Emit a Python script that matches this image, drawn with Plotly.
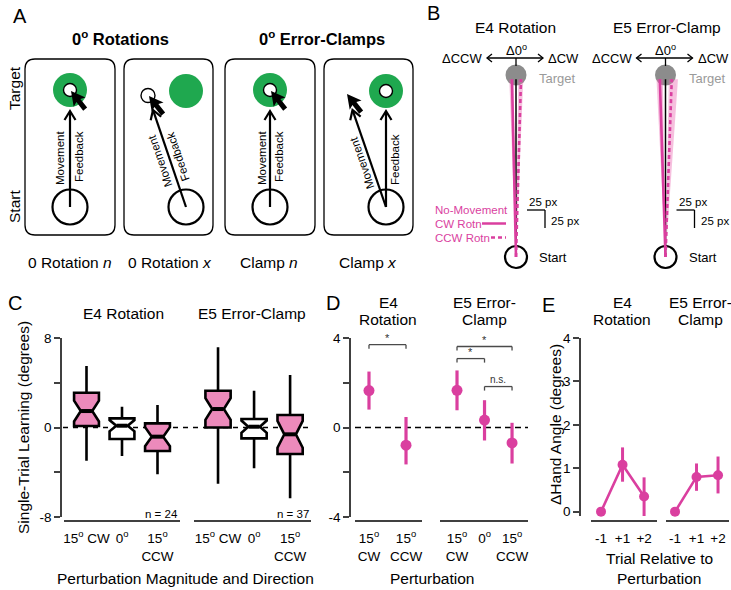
import math
import plotly.graph_objects as go

W, H = 731, 590
FONT = "Liberation Sans, Arial, Helvetica, sans-serif"
PINK = "#DA3F9F"
SHADE = "rgba(232,95,172,0.40)"
BOXPINK = "#EC8ABB"
GREEN = "#1FA84F"
AXC = "#404040"
GRAY = "#8c8c8c"

# ---------------- DATA ----------------
# Panel B: mean hand-trajectory endpoints (task px, + = CW) with CI bounds
b_conditions = ["CW Rotn", "CCW Rotn"]
b_reach = 247.0
b_e4_end = [-5.6, 6.9]
b_e4_ci_lo = [-9.3, 3.2]
b_e4_ci_hi = [-3.8, 10.1]
b_e5_end = [-7.9, 8.7]
b_e5_ci_lo = [-12.5, 4.6]
b_e5_ci_hi = [-3.7, 17.3]

# Panel C: single-trial learning box statistics (degrees)
c_cats = ["15° CW", "0°", "15° CCW"]
c_ticktext = ["15<sup>o</sup> CW", "0<sup>o</sup>", "15<sup>o</sup><br>CCW"]
c_e4_lowf = [-2.97, -2.55, -4.18]
c_e4_q1 = [0.13, -1.03, -2.10]
c_e4_med = [1.47, 0.16, -0.82]
c_e4_q3 = [3.10, 0.82, 0.37]
c_e4_upf = [5.50, 1.86, 2.01]
c_e4_notch = [0.93, 0.50, 0.85]
c_e5_lowf = [-5.02, -3.65, -6.33]
c_e5_q1 = [0.00, -0.97, -2.37]
c_e5_med = [1.65, 0.07, -0.61]
c_e5_q3 = [3.29, 0.76, 1.12]
c_e5_upf = [7.17, 3.29, 4.69]
c_e5_notch = [0.97, 0.55, 1.20]
c_n = ["n = 24", "n = 37"]

# Panel D: mean single-trial learning with CI
d_e4_cats = ["15° CW", "15° CCW"]
d_e4_tick = ["15<sup>o</sup><br>CW", "15<sup>o</sup><br>CCW"]
d_e4_mean = [1.65, -0.79]
d_e4_hi = [2.50, 0.47]
d_e4_lo = [0.80, -1.65]
d_e5_cats = ["15° CW", "0°", "15° CCW"]
d_e5_tick = ["15<sup>o</sup><br>CW", "0<sup>o</sup>", "15<sup>o</sup><br>CCW"]
d_e5_mean = [1.66, 0.33, -0.69]
d_e5_hi = [2.55, 1.22, 0.21]
d_e5_lo = [0.77, -0.58, -1.61]
d_sig_e4 = [("15° CW", "15° CCW", 3.70, "*")]
d_sig_e5 = [("15° CW", "15° CCW", 3.62, "*"),
            ("15° CW", "0°", 3.08, "*"),
            ("0°", "15° CCW", 1.83, "n.s.")]

# Panel E: change in hand angle relative to perturbation trial
e_cats = ["-1", "+1", "+2"]
e_e4_mean = [0.0, 1.08, 0.35]
e_e4_hi = [0.0, 1.48, 0.79]
e_e4_lo = [0.0, 0.69, -0.10]
e_e5_mean = [0.0, 0.80, 0.84]
e_e5_hi = [0.0, 1.11, 1.27]
e_e5_lo = [0.0, 0.48, 0.42]

# ---------------- helpers ----------------
fig = go.Figure()
shapes = []
ann = []


def fx(p):
    return p / W


def fy(p):
    return 1 - p / H


def text(x, y, s, size=15.5, color="black", xa="center", ya="middle", angle=0, ref=("x7", "y7")):
    ann.append(dict(x=x, y=y, xref=ref[0], yref=ref[1], text=s, showarrow=False,
                    font=dict(size=size, color=color, family=FONT), xanchor=xa, yanchor=ya,
                    textangle=angle))


def line(x0, y0, x1, y1, color="black", width=2, dash="solid", ref=("x7", "y7"), layer="above"):
    shapes.append(dict(type="line", x0=x0, y0=y0, x1=x1, y1=y1, xref=ref[0], yref=ref[1],
                       line=dict(color=color, width=width, dash=dash), layer=layer))


def circle(cx, cy, r, fill=None, lc="black", lw=2, layer="above"):
    shapes.append(dict(type="circle", x0=cx - r, x1=cx + r, y0=cy - r, y1=cy + r,
                       xref="x7", yref="y7",
                       fillcolor=fill if fill else "rgba(0,0,0,0)",
                       line=dict(color=lc, width=lw), layer=layer))


def path(d, fill=None, lc="black", lw=2, layer="above"):
    shapes.append(dict(type="path", path=d, xref="x7", yref="y7",
                       fillcolor=fill if fill else "rgba(0,0,0,0)",
                       line=dict(color=lc, width=lw), layer=layer))


def chevron(tx, ty, ux, uy, L=9, Wd=5.5, width=2.2):
    px_, py_ = -uy, ux
    a = (tx - L * ux + Wd * px_, ty - L * uy + Wd * py_)
    b = (tx - L * ux - Wd * px_, ty - L * uy - Wd * py_)
    path(f"M{a[0]:.2f},{a[1]:.2f} L{tx:.2f},{ty:.2f} L{b[0]:.2f},{b[1]:.2f}", lw=width)


def arrow(x0, y0, x1, y1, width=2.2, L=9, Wd=5.5):
    d = math.hypot(x1 - x0, y1 - y0)
    ux, uy = (x1 - x0) / d, (y1 - y0) / d
    line(x0, y0, x1 - ux * 1, y1 - uy * 1, width=width)
    chevron(x1, y1, ux, uy, L=L, Wd=Wd, width=width)


def cursor(tx, ty, ang=38):
    ux, uy = math.sin(math.radians(ang)), math.cos(math.radians(ang))
    px_, py_ = uy, -ux
    loc = [(0, 0), (7.5, 14), (2.5, 12), (2.5, 23), (-2.5, 23), (-2.5, 12), (-7.5, 14)]
    pts = [(tx + a * px_ + b * ux, ty + a * py_ + b * uy) for a, b in loc]
    d = "M" + " L".join(f"{x:.2f},{y:.2f}" for x, y in pts) + " Z"
    path(d, fill="black", lw=0)


def rrect(x0, y0, x1, y1, r=10, lw=1.3):
    d = (f"M{x0+r},{y0} L{x1-r},{y0} Q{x1},{y0} {x1},{y0+r} L{x1},{y1-r} Q{x1},{y1} {x1-r},{y1} "
         f"L{x0+r},{y1} Q{x0},{y1} {x0},{y1-r} L{x0},{y0+r} Q{x0},{y0} {x0+r},{y0} Z")
    path(d, lw=lw)


# ---------------- Panel A (schematic) ----------------
text(20, 16, "A", size=20)
text(120, 38, "<b>0<sup>o</sup> Rotations</b>", size=16.5)
text(322, 38, "<b>0<sup>o</sup> Error-Clamps</b>", size=16.5)
text(14, 88, "Target", angle=-90)
text(14, 207, "Start", angle=-90)

for (bx0, bx1) in [(25, 115), (124, 213), (225, 315), (324, 413)]:
    rrect(bx0, 59, bx1, 235)

# box 1 and 3 : on-target
for cx in (70, 270):
    circle(cx, 90, 17, fill=GREEN, lw=0)
    circle(cx, 90, 6.5, fill="white", lw=1.4)
    circle(cx, 207, 17.5, lw=2.2)
    arrow(cx, 207, cx, 111)
    cursor(cx + 1, 91)
text(60, 158, "Movement", size=11.5, angle=-90)
text(79, 157, "Feedback", size=11.5, angle=-90)
text(262, 158, "Movement", size=11.5, angle=-90)
text(279, 157, "Feedback", size=11.5, angle=-90)

# box 2 : rotation, x
circle(148, 95.5, 7, fill="white", lw=1.4)
circle(186, 91, 17, fill=GREEN, lw=0)
circle(186, 207, 17.5, lw=2.2)
arrow(186, 207, 153, 110)
cursor(149, 96)
ang2 = math.degrees(math.atan2(110 - 207, 153 - 186))
text(160, 161, "Movement", size=11.5, angle=ang2)
text(178, 157, "Feedback", size=11.5, angle=ang2)

# box 4 : clamp, x
circle(386, 91, 17, fill=GREEN, lw=0)
circle(386, 91, 6.5, fill="white", lw=1.4)
circle(386, 207, 17.5, lw=2.2)
arrow(386, 207, 386, 111)
arrow(386, 207, 352.5, 110)
cursor(347, 94)
ang4 = math.degrees(math.atan2(110 - 207, 352.5 - 386))
text(362, 163, "Movement", size=11.5, angle=ang4)
text(395, 160, "Feedback", size=11.5, angle=-90)

text(70, 262, "0 Rotation <i>n</i>")
text(170, 262, "0 Rotation <i>x</i>")
text(269, 262, "Clamp <i>n</i>")
text(368, 262, "Clamp <i>x</i>")

# ---------------- Panel B ----------------
text(433, 13, "B", size=20)
text(515, 27, "E4 Rotation")
text(667, 27, "E5 Error-Clamp")
for cx in (516, 665.5):
    text(cx, 50, "Δ0<sup>o</sup>", size=13)
    line(cx - 29, 58, cx + 27, 58, width=1.3)
    chevron(cx - 29, 58, -1, 0, L=5, Wd=4, width=1.3)
    chevron(cx + 27, 58, 1, 0, L=5, Wd=4, width=1.3)
    line(cx, 58, cx, 66, width=1.3)
    text(cx - 32, 58, "ΔCCW", size=13, xa="right")
    text(cx + 30, 58, "ΔCW", size=13, xa="left")
    circle(cx, 75, 10.5, fill=GRAY, lw=0, layer="below")
    text(cx + 21, 78, "Target", size=13, color="#9a9a9a", xa="left")
    circle(cx, 257, 11, lw=2.2, layer="below")
    text(cx + 21, 257, "Start", size=13, xa="left")
    # 25 px scale bar
    line(cx + 11, 210, cx + 29, 210, width=1.3)
    line(cx + 29, 210, cx + 29, 228, width=1.3)
    text(cx + 11, 202, "25 px", size=11.5, xa="left")
    text(cx + 33, 221, "25 px", size=11.5, xa="left")

text(433, 210, "No-Movement", size=11.5, color=PINK, xa="left")
text(433, 223.5, "CW Rotn", size=11.5, color=PINK, xa="left")
text(433, 237.5, "CCW Rotn", size=11.5, color=PINK, xa="left")
line(482, 223.5, 506, 223.5, color=PINK, width=2.5)
line(491, 237.5, 506, 237.5, color=PINK, width=2.5, dash="4px,3px")

for xa_, ya_, ends, los, his in [("x8", "y8", b_e4_end, b_e4_ci_lo, b_e4_ci_hi),
                                 ("x9", "y9", b_e5_end, b_e5_ci_lo, b_e5_ci_hi)]:
    for i, cond in enumerate(b_conditions):
        fig.add_trace(go.Scatter(x=[0, los[i], his[i], 0], y=[0, b_reach, b_reach, 0],
                                 fill="toself", fillcolor=SHADE, mode="lines", line=dict(width=0),
                                 xaxis=xa_, yaxis=ya_, hoverinfo="skip", showlegend=False))
    fig.add_trace(go.Scatter(x=[0, 0], y=[0, b_reach], mode="lines",
                             line=dict(color="black", width=1.5),
                             xaxis=xa_, yaxis=ya_, hoverinfo="skip", showlegend=False))
    for i, cond in enumerate(b_conditions):
        fig.add_trace(go.Scatter(x=[0, ends[i]], y=[0, b_reach], mode="lines", name=cond,
                                 line=dict(color=PINK, width=2.6,
                                           dash="solid" if i == 0 else "4px,3px"),
                                 xaxis=xa_, yaxis=ya_, hoverinfo="skip", showlegend=False))

# ---------------- Panel C ----------------
text(15, 303, "C", size=20)
text(123, 313, "E4 Rotation")
text(252, 313, "E5 Error-Clamp")
text(23, 428, "Single-Trial Learning (degrees)", angle=-90)
text(185, 578, "Perturbation Magnitude and Direction")
text(180, 514, c_n[0], size=11.5, xa="right")
text(311, 514, c_n[1], size=11.5, xa="right")

BOX_W = 0.7
NOTCH_W = 0.27
for xa_, lowf, q1, med, q3, upf, notch in [
        ("x", c_e4_lowf, c_e4_q1, c_e4_med, c_e4_q3, c_e4_upf, c_e4_notch),
        ("x2", c_e5_lowf, c_e5_q1, c_e5_med, c_e5_q3, c_e5_upf, c_e5_notch)]:
    for i, cat in enumerate(c_cats):
        fig.add_trace(go.Box(x=[cat], lowerfence=[lowf[i]], q1=[q1[i]], median=[med[i]],
                             q3=[q3[i]], upperfence=[upf[i]], notched=True, notchspan=[notch[i]],
                             notchwidth=NOTCH_W, whiskerwidth=0, width=BOX_W, boxpoints=False,
                             fillcolor="white" if cat == "0°" else BOXPINK,
                             line=dict(color="black", width=2.6),
                             xaxis=xa_, yaxis="y", hoverinfo="skip", showlegend=False))
        # emphasised (thicker) median bar, as in the original figure
        hw = BOX_W / 2 * (1 - 2 * NOTCH_W) * 0.95
        shapes.append(dict(type="line", xref=xa_, yref="y", x0=i - hw, x1=i + hw,
                           y0=med[i], y1=med[i], line=dict(color="black", width=4)))
shapes.append(dict(type="line", xref="paper", yref="y", x0=fx(63), x1=fx(313), y0=0, y1=0,
                   line=dict(color="black", width=1.3, dash="5px,5px"), layer="below"))

# ---------------- Panel D ----------------
text(333, 303, "D", size=20)
text(388, 302, "E4")
text(388, 319, "Rotation")
text(484, 302, "E5 Error-")
text(484, 319, "Clamp")
text(432, 578, "Perturbation")
shapes.append(dict(type="line", xref="paper", yref="y2", x0=fx(355), x1=fx(528), y0=0, y1=0,
                   line=dict(color="black", width=1.3, dash="6px,4px"), layer="below"))

for xa_, cats, mean, hi, lo in [("x3", d_e4_cats, d_e4_mean, d_e4_hi, d_e4_lo),
                                ("x4", d_e5_cats, d_e5_mean, d_e5_hi, d_e5_lo)]:
    fig.add_trace(go.Scatter(x=cats, y=mean, mode="markers",
                             marker=dict(color=PINK, size=11),
                             error_y=dict(type="data", symmetric=False,
                                          array=[h - m for h, m in zip(hi, mean)],
                                          arrayminus=[m - l for m, l in zip(mean, lo)],
                                          color=PINK, thickness=3.2, width=0),
                             xaxis=xa_, yaxis="y2", hoverinfo="skip", showlegend=False))

for xa_, cats, sigs in [("x3", d_e4_cats, d_sig_e4), ("x4", d_e5_cats, d_sig_e5)]:
    for a, b, yv, lab in sigs:
        i0, i1 = cats.index(a), cats.index(b)
        tick = 0.18
        for (x0, y0, x1, y1) in [(i0, yv - tick, i0, yv), (i0, yv, i1, yv), (i1, yv, i1, yv - tick)]:
            shapes.append(dict(type="line", xref=xa_, yref="y2", x0=x0, x1=x1, y0=y0, y1=y1,
                               line=dict(color="#4a4a4a", width=1.3)))
        ann.append(dict(x=(i0 + i1) / 2, y=yv, xref=xa_, yref="y2", text=lab, showarrow=False,
                        font=dict(size=11 if lab == "*" else 10, family=FONT, color="#333"),
                        xanchor="center", yanchor="bottom", yshift=-1 if lab == "*" else 0))

# ---------------- Panel E ----------------
text(548, 305, "E", size=20)
text(622, 302, "E4")
text(622, 319, "Rotation")
text(700, 302, "E5 Error-")
text(700, 319, "Clamp")
text(555, 425, "ΔHand Angle (degrees)", angle=-90)
text(659, 558, "Trial Relative to")
text(659, 578, "Perturbation")

for xa_, mean, hi, lo in [("x5", e_e4_mean, e_e4_hi, e_e4_lo), ("x6", e_e5_mean, e_e5_hi, e_e5_lo)]:
    fig.add_trace(go.Scatter(x=e_cats, y=mean, mode="lines+markers",
                             line=dict(color=PINK, width=2.6),
                             marker=dict(color=PINK, size=10),
                             error_y=dict(type="data", symmetric=False,
                                          array=[h - m for h, m in zip(hi, mean)],
                                          arrayminus=[m - l for m, l in zip(mean, lo)],
                                          color=PINK, thickness=3, width=0),
                             xaxis=xa_, yaxis="y3", hoverinfo="skip", showlegend=False,
                             cliponaxis=False))

# overlay (pixel) axis dummy trace
fig.add_trace(go.Scatter(x=[0], y=[0], xaxis="x7", yaxis="y7", mode="markers",
                         marker=dict(opacity=0), hoverinfo="skip", showlegend=False))

# ---------------- axes ----------------
TICKFONT = dict(size=13.5, family=FONT, color="black")


def xcat(dpx, cats, rng, ticktext):
    return dict(domain=[fx(dpx[0]), fx(dpx[1])], type="category", categoryorder="array",
                categoryarray=cats, range=rng, anchor="free", position=fy(521),
                showline=True, linecolor=AXC, linewidth=1.5, ticks="outside", ticklen=5,
                tickcolor="rgba(0,0,0,0)", tickvals=cats, ticktext=ticktext, tickfont=TICKFONT,
                showgrid=False, zeroline=False, fixedrange=True, automargin=False)


def yax(top, bottom, rng, tickvals, ticktext, xpos):
    return dict(domain=[fy(bottom), fy(top)], range=rng, anchor="free", position=fx(xpos),
                showline=True, linecolor=AXC, linewidth=1.5, ticks="outside", ticklen=6,
                tickwidth=1.5, tickcolor=AXC, tickvals=tickvals, ticktext=ticktext,
                tickfont=TICKFONT, showgrid=False, zeroline=False, fixedrange=True,
                automargin=False)


B_SCALE = 18 / 25  # screen px per task px
hidden = dict(visible=False, showgrid=False, zeroline=False, fixedrange=True, automargin=False)

fig.update_layout(
    width=W, height=H, autosize=False,
    margin=dict(l=0, r=0, t=0, b=0, pad=0, autoexpand=False),
    paper_bgcolor="white", plot_bgcolor="rgba(0,0,0,0)", showlegend=False,
    font=dict(family=FONT, color="black"),
    xaxis=xcat((64, 180), c_cats, [-0.634, 2.634], c_ticktext),
    xaxis2=xcat((194, 311), c_cats, [-0.667, 2.58], c_ticktext),
    yaxis=yax(338, 517, [-8, 8], [-8, -4, 0, 4, 8], ["-8", "", "0", "", "8"], 61),
    xaxis3=xcat((355, 422), d_e4_cats, [-0.378, 1.432], d_e4_tick),
    xaxis4=xcat((440, 528), d_e5_cats, [-0.618, 2.58], d_e5_tick),
    yaxis2=yax(338, 517, [-4, 4], [-4, -2, 0, 2, 4], ["-4", "", "0", "", "4"], 350),
    xaxis5=xcat((591, 657), e_cats, [-0.465, 2.6], e_cats),
    xaxis6=xcat((666, 729), e_cats, [-0.42, 2.51], e_cats),
    yaxis3=yax(338, 516, [-0.1, 4], [0, 1, 2, 3, 4], ["0", "1", "2", "3", "4"], 580),
    xaxis7=dict(domain=[0, 1], range=[0, W], anchor="y7", **hidden),
    yaxis7=dict(domain=[0, 1], range=[H, 0], anchor="x7", **hidden),
    xaxis8=dict(domain=[fx(466), fx(566)], range=[-50 / B_SCALE, 50 / B_SCALE], anchor="y8", **hidden),
    yaxis8=dict(domain=[fy(257), fy(67)], range=[0, 190 / B_SCALE], anchor="x8", **hidden),
    xaxis9=dict(domain=[fx(615.5), fx(715.5)], range=[-50 / B_SCALE, 50 / B_SCALE], anchor="y9", **hidden),
    yaxis9=dict(domain=[fy(257), fy(67)], range=[0, 190 / B_SCALE], anchor="x9", **hidden),
    shapes=shapes, annotations=ann,
)

fig.write_html("out.html", config={"displayModeBar": False},
               post_script="document.body.style.margin='0';document.body.style.padding='0';"
                           "document.documentElement.style.overflow='hidden';")
